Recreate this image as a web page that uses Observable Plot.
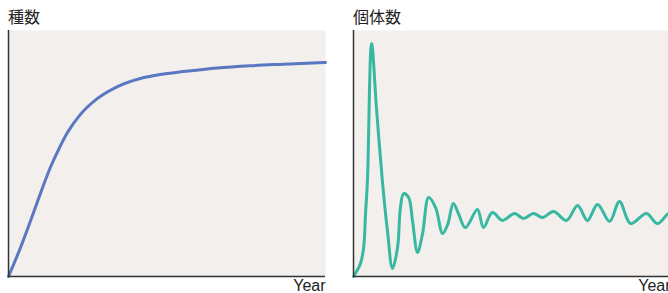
<!DOCTYPE html>
<html><head><meta charset="utf-8">
<script src="https://cdn.jsdelivr.net/npm/d3@7"></script>
<script src="https://cdn.jsdelivr.net/npm/@observablehq/plot@0.6"></script>
<style>
body{margin:0;background:#fff;overflow:hidden}
#wrap{position:relative;width:700px;height:293px;overflow:hidden}
.panel{position:absolute;top:0;width:345px;height:293px}
.title{position:absolute;top:8px;font-family:"Noto Sans CJK JP","Noto Sans",sans-serif;font-size:16px;line-height:16px;color:#222}
.panel svg{position:absolute;top:0;left:0}
</style>
</head><body>
<div id="wrap">
  <div class="panel" id="p1" style="left:0"><div class="title" style="left:8px">種数</div></div>
  <div class="panel" id="p2" style="left:345px"><div class="title" style="left:8px">個体数</div></div>
</div>
<script>
const titles = ["種数", "個体数"];
const xLabel = "Year";
// species curve
const speciesYear = [0, 3.8, 7.9, 11.0, 13.2, 15.5, 18.6, 22.7, 28.1, 34.4, 41.6, 47.9, 55.2, 65.9, 76.3, 86.8, 100];
const speciesValue = [0, 11.8, 26.0, 37.0, 44.3, 50.8, 58.5, 65.9, 72.4, 77.2, 80.5, 82.1, 83.3, 84.8, 85.7, 86.3, 87.0];
// individuals curve
const indivYear = [0, 2.2, 3.2, 3.8, 4.4, 5.7, 7.3, 9.1, 10.7, 12.3, 13.9, 14.8, 15.8, 17.4, 18.6, 20.2, 21.8, 23.7, 25.9, 28.1, 29.7, 31.5, 33.1, 35.3, 39.1, 41.0, 43.8, 47.0, 50.8, 53.6, 56.8, 59.6, 63.1, 67.2, 70.7, 73.8, 77.0, 80.8, 83.9, 87.4, 92.4, 95.9, 99.4, 100];
const indivValue = [0, 5.3, 11.8, 25.6, 39.0, 94.7, 67.5, 39.0, 18.7, 3.3, 11.8, 28.0, 33.7, 32.1, 22.8, 9.8, 17.5, 32.1, 28.0, 17.5, 21.1, 29.7, 25.6, 19.9, 27.2, 19.9, 26, 22.8, 25.6, 23.6, 25.6, 24, 26.4, 22.8, 28.9, 22.8, 29.3, 22.4, 30.5, 21.5, 25.6, 21.5, 25.6, 24.5];

function panel(xs, ys, color, curve) {
  const data = xs.map((x, i) => ({x, y: ys[i]}));
  return Plot.plot({
    width: 345, height: 293,
    marginLeft: 8, marginRight: 20, marginTop: 30, marginBottom: 17,
    x: {domain: [0, 100], axis: null},
    y: {domain: [0, 100], axis: null},
    style: {background: "transparent", overflow: "visible"},
    marks: [
      Plot.frame({fill: "#f2efec", stroke: null}),
      Plot.line(data, {x: "x", y: "y", stroke: color, strokeWidth: 3, curve}),
      Plot.ruleX([0], {stroke: "#333", strokeWidth: 1.5}),
      Plot.ruleY([0], {stroke: "#333", strokeWidth: 1.5}),
      Plot.text([xLabel], {frameAnchor: "bottom-right", textAnchor: "end", lineAnchor: "top", dy: 3,
        fontSize: 16, fill: "#222", fontFamily: "'Liberation Sans', Arial, sans-serif"})
    ]
  });
}
document.getElementById("p1").appendChild(panel(speciesYear, speciesValue, "#5a78c2", "monotone-x"));
document.getElementById("p2").appendChild(panel(indivYear, indivValue, "#36b8a2", "catmull-rom"));
</script>
</body></html>
